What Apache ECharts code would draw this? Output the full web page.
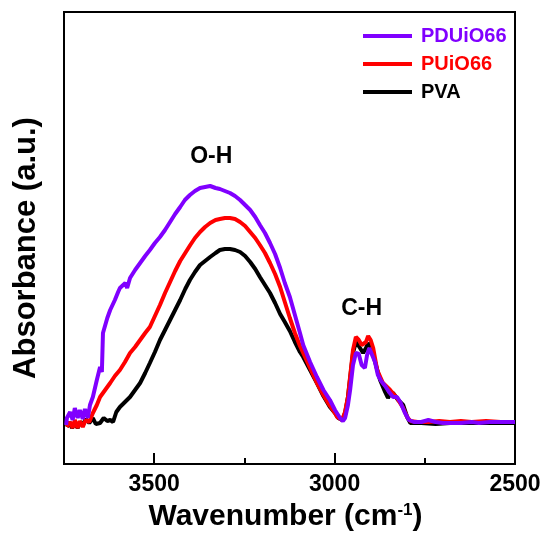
<!DOCTYPE html>
<html>
<head>
<meta charset="utf-8">
<script src="https://cdn.jsdelivr.net/npm/echarts@6/dist/echarts.min.js"></script>
<style>
  html, body { margin: 0; background: #fff; }
  #chart { width: 545px; height: 539px; }
</style>
</head>
<body>
<div id="chart"></div>
<script>
// [wavenumber (cm-1), absorbance (a.u.)]
var pduio66 = [
  [3744, 0.39], [3742, 0.46], [3733, 0.52], [3726, 0.44], [3720, 0.56], [3712, 0.46],
  [3706, 0.54], [3698, 0.45], [3692, 0.55], [3684, 0.46], [3678, 0.59], [3670, 0.67],
  [3659, 0.84], [3650, 0.97], [3645, 0.92], [3642, 1.31], [3630, 1.46], [3622, 1.54],
  [3609, 1.64], [3600, 1.72], [3595, 1.76], [3580, 1.81], [3575, 1.76], [3567, 1.86],
  [3553, 1.94], [3539, 2.01], [3525, 2.08], [3512, 2.14], [3498, 2.21], [3484, 2.27],
  [3470, 2.34], [3456, 2.42], [3442, 2.50], [3428, 2.57], [3415, 2.64], [3401, 2.69],
  [3387, 2.73], [3373, 2.76], [3359, 2.77], [3345, 2.78], [3330, 2.76], [3318, 2.75],
  [3304, 2.73], [3290, 2.71], [3276, 2.68], [3262, 2.64], [3248, 2.59], [3234, 2.54],
  [3220, 2.47], [3207, 2.39], [3193, 2.31], [3179, 2.21], [3165, 2.10], [3151, 1.96],
  [3138, 1.81], [3124, 1.67], [3110, 1.49], [3096, 1.31], [3087, 1.19], [3068, 1.02],
  [3049, 0.87], [3031, 0.74], [3013, 0.64], [2999, 0.54], [2985, 0.46], [2977, 0.43],
  [2971, 0.46], [2963, 0.59], [2957, 0.74], [2949, 0.99], [2941, 1.11], [2933, 1.10],
  [2925, 0.99], [2916, 0.96], [2910, 1.09], [2904, 1.16], [2896, 1.09], [2888, 1.02],
  [2880, 0.89], [2871, 0.83], [2860, 0.78], [2849, 0.72], [2838, 0.67], [2827, 0.67],
  [2818, 0.62], [2805, 0.51], [2794, 0.44], [2780, 0.42], [2760, 0.42], [2740, 0.44],
  [2720, 0.42], [2700, 0.41], [2680, 0.41], [2650, 0.41], [2620, 0.42], [2600, 0.41],
  [2570, 0.42], [2540, 0.42], [2500, 0.42]
];

var puio66 = [
  [3742, 0.37], [3733, 0.42], [3726, 0.36], [3720, 0.44], [3712, 0.36], [3706, 0.43],
  [3698, 0.37], [3690, 0.44], [3680, 0.42], [3670, 0.51], [3659, 0.59], [3650, 0.67],
  [3636, 0.74], [3622, 0.81], [3609, 0.88], [3595, 0.94], [3581, 1.02], [3567, 1.11],
  [3553, 1.17], [3539, 1.24], [3525, 1.31], [3512, 1.37], [3498, 1.48], [3484, 1.59],
  [3470, 1.71], [3456, 1.82], [3442, 1.93], [3428, 2.03], [3414, 2.11], [3400, 2.19],
  [3387, 2.26], [3373, 2.32], [3359, 2.37], [3345, 2.41], [3330, 2.44], [3318, 2.45],
  [3304, 2.46], [3290, 2.46], [3276, 2.45], [3262, 2.42], [3248, 2.38], [3234, 2.32],
  [3220, 2.26], [3207, 2.19], [3193, 2.11], [3179, 2.01], [3165, 1.90], [3151, 1.77],
  [3138, 1.62], [3124, 1.46], [3110, 1.31], [3096, 1.18], [3087, 1.11], [3068, 0.96],
  [3049, 0.81], [3031, 0.69], [3018, 0.61], [2999, 0.51], [2993, 0.47], [2979, 0.44],
  [2971, 0.52], [2963, 0.67], [2955, 0.94], [2949, 1.14], [2941, 1.27], [2933, 1.24],
  [2925, 1.19], [2921, 1.17], [2913, 1.22], [2907, 1.28], [2900, 1.24], [2893, 1.16],
  [2882, 0.94], [2866, 0.81], [2846, 0.74], [2827, 0.66], [2810, 0.56], [2799, 0.47],
  [2790, 0.43], [2770, 0.42], [2740, 0.42], [2710, 0.43], [2680, 0.42], [2650, 0.43],
  [2620, 0.42], [2580, 0.43], [2540, 0.42], [2500, 0.42]
];

var pva = [
  [3742, 0.37], [3735, 0.42], [3728, 0.36], [3720, 0.41], [3712, 0.36], [3706, 0.42],
  [3698, 0.39], [3690, 0.45], [3680, 0.41], [3670, 0.46], [3662, 0.40], [3650, 0.41],
  [3640, 0.46], [3630, 0.43], [3622, 0.44], [3614, 0.42], [3605, 0.52], [3595, 0.57],
  [3581, 0.62], [3567, 0.67], [3553, 0.74], [3539, 0.81], [3525, 0.91], [3512, 1.01],
  [3498, 1.12], [3484, 1.24], [3470, 1.34], [3456, 1.44], [3442, 1.54], [3428, 1.64],
  [3414, 1.75], [3401, 1.84], [3387, 1.92], [3373, 1.99], [3359, 2.03], [3345, 2.07],
  [3330, 2.11], [3318, 2.14], [3304, 2.15], [3290, 2.15], [3276, 2.14], [3262, 2.12],
  [3248, 2.08], [3234, 2.02], [3220, 1.95], [3207, 1.87], [3193, 1.79], [3179, 1.71],
  [3165, 1.61], [3151, 1.50], [3138, 1.42], [3124, 1.33], [3110, 1.22], [3096, 1.12],
  [3087, 1.07], [3068, 0.94], [3049, 0.81], [3031, 0.68], [3013, 0.57], [2999, 0.51],
  [2990, 0.46], [2979, 0.44], [2971, 0.51], [2963, 0.67], [2955, 0.92], [2949, 1.11],
  [2941, 1.22], [2933, 1.18], [2921, 1.11], [2913, 1.16], [2907, 1.21], [2900, 1.17],
  [2893, 1.09], [2874, 0.84], [2860, 0.72], [2852, 0.66], [2846, 0.70], [2838, 0.71],
  [2824, 0.64], [2810, 0.59], [2799, 0.47], [2790, 0.41], [2760, 0.41], [2720, 0.40],
  [2680, 0.41], [2640, 0.41], [2600, 0.41], [2560, 0.41], [2500, 0.41]
];

var seriesNames = ['PDUiO66', 'PUiO66', 'PVA'];
var seriesColors = ['#8000ff', '#ff0000', '#000000'];
var bandLabels = [
  { name: 'O-H', coord: [3342, 3.07] },
  { name: 'C-H', coord: [2925, 1.55] }
];

var font = '"Liberation Sans", Arial, sans-serif';
var chart = echarts.init(document.getElementById('chart'));

function lineSeries(name, data, color, extra) {
  var s = {
    name: name,
    type: 'line',
    data: data,
    showSymbol: false,
    symbol: 'none',
    color: color,
    lineStyle: { color: color, width: 4 },
    animation: false
  };
  return Object.assign(s, extra || {});
}

chart.setOption({
  animation: false,
  textStyle: { fontFamily: font },
  grid: {
    left: 64, top: 12, right: 30, bottom: 75,
    show: true, borderColor: '#000', borderWidth: 2
  },
  legend: {
    orient: 'vertical',
    left: 358, top: 21,
    itemWidth: 49, itemHeight: 4, itemGap: 8,
    icon: 'rect',
    data: seriesNames.map(function (n, i) {
      return { name: n, textStyle: { color: seriesColors[i] } };
    }),
    textStyle: { fontFamily: font, fontWeight: 'bold', fontSize: 20, lineHeight: 20, padding: [0, 0, 0, 4] }
  },
  xAxis: [
    {
      type: 'value', inverse: true, min: 2500, max: 3750, interval: 500,
      axisLine: { show: false },
      axisTick: { inside: true, length: 11, lineStyle: { color: '#000', width: 2 } },
      axisLabel: {
        margin: 9, color: '#000', fontSize: 23, fontWeight: 'bold', fontFamily: font,
        formatter: function (v) { return v % 500 === 0 ? String(v) : ''; }
      },
      splitLine: { show: false },
      name: 'Wavenumber (cm{sup|-1})',
      nameLocation: 'middle', nameGap: 38,
      nameTextStyle: {
        color: '#000', fontSize: 30, fontWeight: 'bold', fontFamily: font,
        padding: [0, 8, 0, 0],
        rich: { sup: { fontSize: 17, fontWeight: 'bold', verticalAlign: 'top', color: '#000', fontFamily: font } }
      }
    },
    {
      type: 'value', inverse: true, min: 2500, max: 3750, interval: 250,
      position: 'bottom',
      axisLine: { show: false },
      axisTick: { inside: true, length: 6, lineStyle: { color: '#000', width: 2 } },
      axisLabel: { show: false },
      splitLine: { show: false }
    }
  ],
  yAxis: {
    type: 'value', min: 0, max: 4.52,
    axisLine: { show: false },
    axisTick: { show: false },
    axisLabel: { show: false },
    splitLine: { show: false },
    name: 'Absorbance (a.u.)',
    nameLocation: 'middle', nameGap: 22,
    nameTextStyle: {
      color: '#000', fontSize: 31, fontWeight: 'bold', fontFamily: font,
      padding: [0, 20, 0, 0]
    }
  },
  series: [
    lineSeries(seriesNames[2], pva, seriesColors[2]),
    lineSeries(seriesNames[1], puio66, seriesColors[1]),
    lineSeries(seriesNames[0], pduio66, seriesColors[0], {
      markPoint: {
        symbol: 'circle', symbolSize: 0, silent: true,
        label: {
          show: true, position: 'inside', formatter: '{b}',
          color: '#000', fontSize: 23, fontWeight: 'bold', fontFamily: font
        },
        data: bandLabels
      }
    })
  ]
});
</script>
</body>
</html>
